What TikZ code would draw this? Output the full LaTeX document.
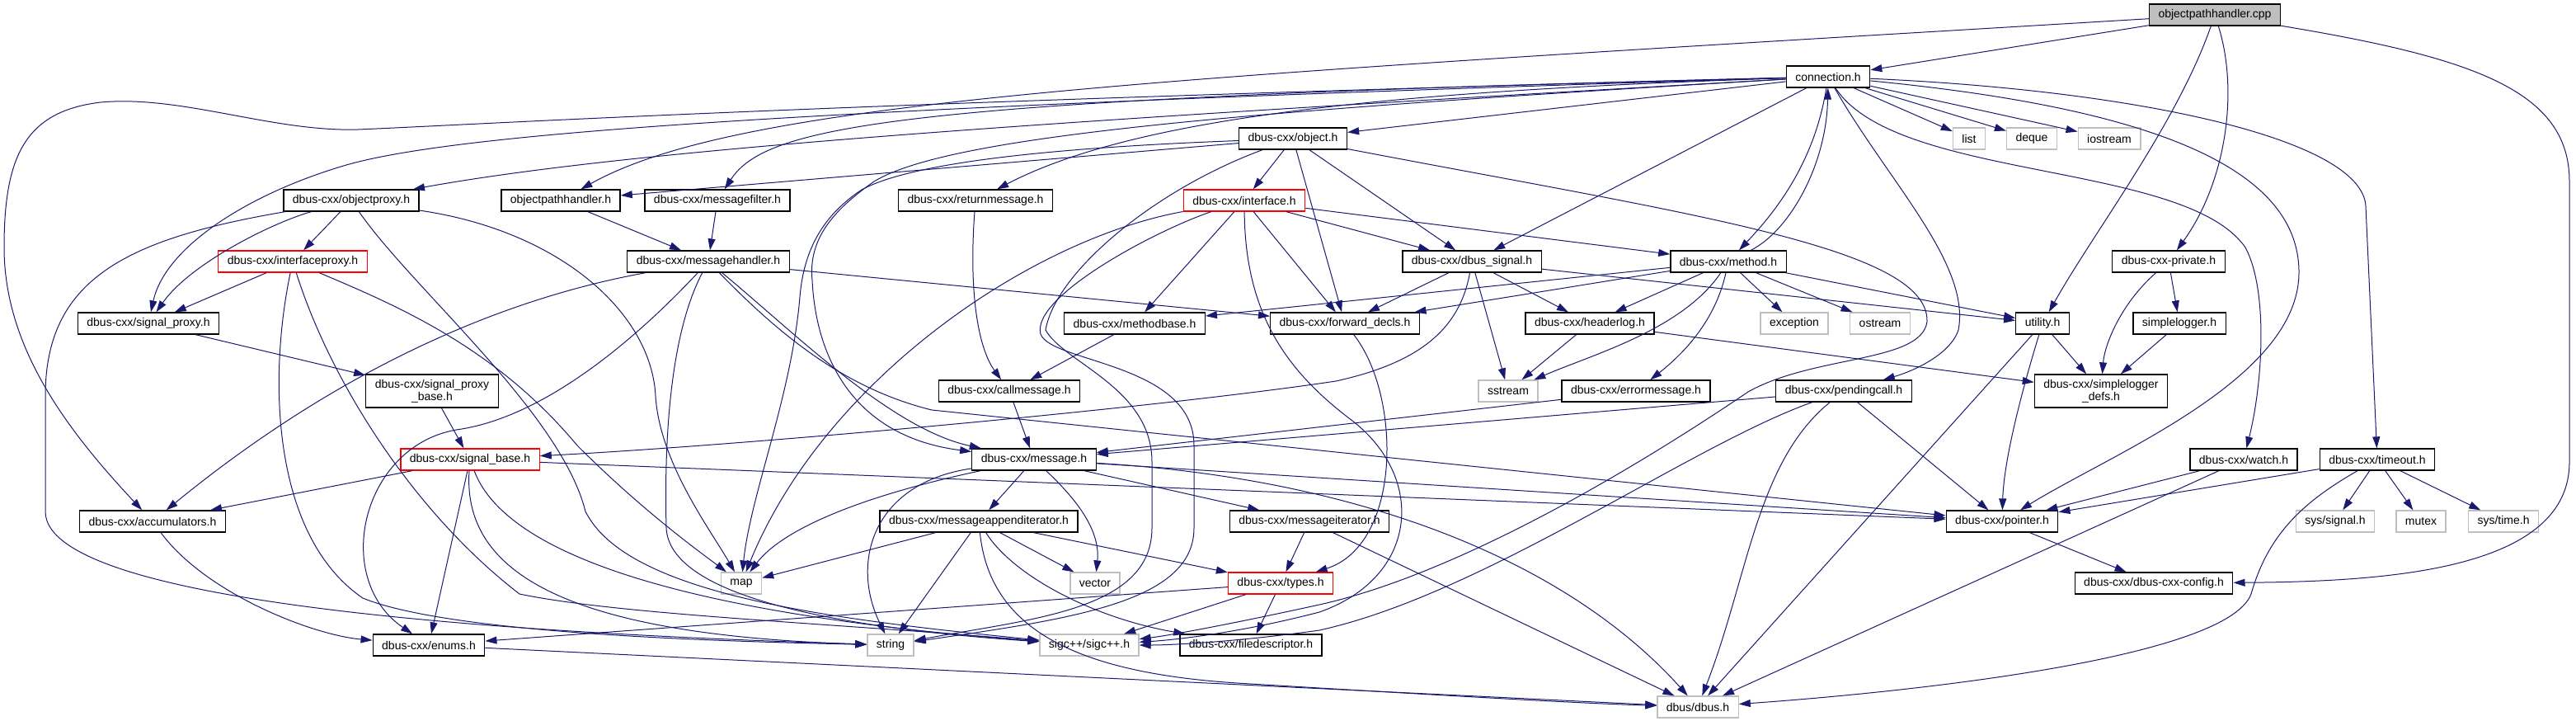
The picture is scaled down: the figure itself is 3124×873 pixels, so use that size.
\documentclass[tikz,border=0pt]{standalone}
\usepackage{fontspec}
\setmainfont{Liberation Sans}
\usetikzlibrary{arrows.meta}
\definecolor{edgeblue}{HTML}{191970}
\definecolor{sysgray}{HTML}{BFBFBF}
\begin{document}
\begin{tikzpicture}[x=1pt, y=-1pt,
  hdr/.style={draw=black, line width=1.3pt, fill=white, align=center, inner xsep=11pt, inner ysep=3pt, minimum height=26pt, font=\fontsize{14}{15}\selectfont},
  syshdr/.style={hdr, draw=sysgray},
  redhdr/.style={hdr, draw=red},
  roothdr/.style={hdr, fill=sysgray},
  twoline/.style={minimum height=40pt},
  incl/.style={->, draw=edgeblue, fill=none, line width=1pt},
  >={Triangle[length=14pt, width=9pt, fill=edgeblue]}]
\useasboundingbox (0,0) rectangle (3124,873);
\node[roothdr] (cpp) at (2686,18) {objectpathhandler.cpp};
\node[hdr] (conn) at (2217,93) {connection.h};
\node[hdr] (obj) at (1568,168) {dbus-cxx/object.h};
\node[syshdr] (list) at (2388,168) {list};
\node[syshdr] (deque) at (2464,168) {deque};
\node[syshdr] (iostream) at (2558,168) {iostream};
\node[hdr] (oproxy) at (426,243) {dbus-cxx/objectproxy.h};
\node[hdr] (ophh) at (680,243) {objectpathhandler.h};
\node[hdr] (mfilter) at (870,243) {dbus-cxx/messagefilter.h};
\node[hdr] (retmsg) at (1183,243) {dbus-cxx/returnmessage.h};
\node[redhdr] (iface) at (1509,243) {dbus-cxx/interface.h};
\node[redhdr] (iproxy) at (355,317) {dbus-cxx/interfaceproxy.h};
\node[hdr] (mhandler) at (859,317) {dbus-cxx/messagehandler.h};
\node[hdr] (dsignal) at (1785,317) {dbus-cxx/dbus\_signal.h};
\node[hdr] (method) at (2096,317) {dbus-cxx/method.h};
\node[hdr] (private) at (2630,317) {dbus-cxx-private.h};
\node[hdr] (sproxy) at (180,392) {dbus-cxx/signal\_proxy.h};
\node[hdr] (mbase) at (1376,392) {dbus-cxx/methodbase.h};
\node[hdr] (fwd) at (1631,392) {dbus-cxx/forward\_decls.h};
\node[hdr] (hlog) at (1928,392) {dbus-cxx/headerlog.h};
\node[syshdr] (exception) at (2176,392) {exception};
\node[syshdr] (ostream) at (2280,392) {ostream};
\node[hdr] (utility) at (2477,392) {utility.h};
\node[hdr] (slogger) at (2643,392) {simplelogger.h};
\node[hdr, twoline] (spbase) at (524,474) {dbus-cxx/signal\_proxy\\\_base.h};
\node[hdr] (callmsg) at (1224,474) {dbus-cxx/callmessage.h};
\node[syshdr] (sstream) at (1829,474) {sstream};
\node[hdr] (errmsg) at (1984,474) {dbus-cxx/errormessage.h};
\node[hdr] (pcall) at (2236,474) {dbus-cxx/pendingcall.h};
\node[hdr, twoline] (sldefs) at (2548,474) {dbus-cxx/simplelogger\\\_defs.h};
\node[redhdr] (sbase) at (570,557) {dbus-cxx/signal\_base.h};
\node[hdr] (message) at (1254,557) {dbus-cxx/message.h};
\node[hdr] (watch) at (2721,557) {dbus-cxx/watch.h};
\node[hdr] (timeout) at (2883,557) {dbus-cxx/timeout.h};
\node[hdr] (accum) at (185,632) {dbus-cxx/accumulators.h};
\node[hdr] (mappend) at (1187,632) {dbus-cxx/messageappenditerator.h};
\node[hdr] (miter) at (1588,632) {dbus-cxx/messageiterator.h};
\node[hdr] (pointer) at (2428,632) {dbus-cxx/pointer.h};
\node[syshdr] (syssignal) at (2832,632) {sys/signal.h};
\node[syshdr] (mutex) at (2936,632) {mutex};
\node[syshdr] (systime) at (3036,632) {sys/time.h};
\node[syshdr] (map) at (899,707) {map};
\node[syshdr] (vector) at (1328,707) {vector};
\node[redhdr] (types) at (1553,707) {dbus-cxx/types.h};
\node[hdr] (config) at (2612,707) {dbus-cxx/dbus-cxx-config.h};
\node[hdr] (enums) at (520,782) {dbus-cxx/enums.h};
\node[syshdr] (string) at (1080,782) {string};
\node[syshdr] (sigc) at (1321,782) {sigc++/sigc++.h};
\node[hdr] (fdesc) at (1517,782) {dbus-cxx/filedescriptor.h};
\node[syshdr] (dbus) at (2059,857) {dbus/dbus.h};
\draw[incl] (cpp) -- (conn);
\draw[incl] (cpp) .. controls (1400,95) and (900,120) .. (ophh);
\draw[incl] (cpp) .. controls (2640,150) and (2540,280) .. (utility);
\draw[incl] (cpp) .. controls (2715,110) and (2700,220) .. (private);
\draw[incl] (cpp) .. controls (3000,70) and (3116,110) .. (3116,220) -- (3116,560) .. controls (3116,690) and (2900,705) .. (config);
\draw[incl] (conn) -- (obj);
\draw[incl] (conn) -- (list);
\draw[incl] (conn) -- (deque);
\draw[incl] (conn) -- (iostream);
\draw[incl] (conn) .. controls (1400,140) and (800,175) .. (oproxy);
\draw[incl] (conn) .. controls (1000,130) and (560,160) .. (420,200) .. controls (300,235) and (200,300) .. (sproxy);
\draw[incl] (conn) .. controls (1000,125) and (600,150) .. (434,157) .. controls (330,160) and (220,115) .. (122,124) .. controls (30,135) and (5,190) .. (5,300) .. controls (5,420) and (80,520) .. (accum);
\draw[incl] (conn) .. controls (1100,120) and (930,150) .. (mfilter);
\draw[incl] (conn) .. controls (1700,110) and (1380,140) .. (retmsg);
\draw[incl] (conn) .. controls (1500,135) and (1150,165) .. (1060,220) .. controls (1010,255) and (980,290) .. (985,340) .. controls (990,440) and (1040,530) .. (message);
\draw[incl] (conn) -- (dsignal);
\draw[incl] (conn) .. controls (2200,200) and (2150,260) .. (method);
\draw[incl] (method) .. controls (2170,280) and (2215,200) .. (conn);
\draw[incl] (conn) .. controls (2290,220) and (2390,320) .. (2375,400) .. controls (2365,430) and (2320,450) .. (pcall);
\draw[incl] (conn) .. controls (2300,220) and (2650,195) .. (2723,300) .. controls (2750,350) and (2745,460) .. (watch);
\draw[incl] (conn) .. controls (2600,110) and (2865,170) .. (2869,250) -- (timeout);
\draw[incl] (conn) .. controls (2600,130) and (2788,200) .. (2788,330) .. controls (2788,460) and (2560,550) .. (pointer);
\draw[incl] (obj) -- (ophh);
\draw[incl] (obj) -- (iface);
\draw[incl] (obj) -- (dsignal);
\draw[incl] (obj) -- (fwd);
\draw[incl] (obj) .. controls (1250,180) and (1100,200) .. (1045,230) .. controls (1000,260) and (975,300) .. (970,360) .. controls (960,480) and (910,600) .. (map);
\draw[incl] (obj) .. controls (1400,230) and (1280,330) .. (1268,400) .. controls (1290,440) and (1397,470) .. (1397,560) -- (1397,640) .. controls (1397,740) and (1250,750) .. (string);
\draw[incl] (obj) .. controls (2050,260) and (2340,300) .. (2337,390) .. controls (2330,440) and (2200,430) .. (2120,475) .. controls (1950,590) and (1750,700) .. (1600,733) .. controls (1500,755) and (1420,770) .. (sigc);
\draw[incl] (iface) -- (dsignal);
\draw[incl] (iface) -- (method);
\draw[incl] (iface) -- (mbase);
\draw[incl] (iface) -- (fwd);
\draw[incl] (iface) .. controls (1250,290) and (1000,460) .. (map);
\draw[incl] (iface) .. controls (1400,280) and (1250,360) .. (1262,405) .. controls (1275,440) and (1448,440) .. (1448,540) -- (1448,640) .. controls (1448,730) and (1300,750) .. (string);
\draw[incl] (iface) .. controls (1510,380) and (1560,450) .. (1640,510) .. controls (1730,580) and (1720,700) .. (1600,742) .. controls (1500,768) and (1420,776) .. (sigc);
\draw[incl] (oproxy) -- (iproxy);
\draw[incl] (oproxy) .. controls (330,270) and (230,320) .. (sproxy);
\draw[incl] (oproxy) .. controls (680,280) and (790,380) .. (795,480) .. controls (800,560) and (860,640) .. (map);
\draw[incl] (oproxy) .. controls (150,290) and (55,340) .. (55,480) -- (55,620) .. controls (55,740) and (700,770) .. (string);
\draw[incl] (oproxy) .. controls (500,350) and (680,500) .. (710,620) .. controls (760,720) and (1000,750) .. (sigc);
\draw[incl] (iproxy) -- (sproxy);
\draw[incl] (iproxy) .. controls (480,370) and (600,420) .. (700,540) .. controls (780,620) and (850,670) .. (map);
\draw[incl] (iproxy) .. controls (325,460) and (330,650) .. (440,725) .. controls (550,770) and (900,778) .. (string);
\draw[incl] (iproxy) .. controls (400,460) and (500,620) .. (630,720) .. controls (750,745) and (1000,755) .. (sigc);
\draw[incl] (ophh) -- (mhandler);
\draw[incl] (mfilter) -- (mhandler);
\draw[incl] (mhandler) -- (fwd);
\draw[incl] (mhandler) .. controls (960,400) and (1080,520) .. (message);
\draw[incl] (mhandler) .. controls (940,400) and (1020,470) .. (1130,497) -- (pointer);
\draw[incl] (mhandler) .. controls (815,400) and (805,520) .. (808,640) .. controls (812,720) and (1000,760) .. (sigc);
\draw[incl] (mhandler) .. controls (620,360) and (420,440) .. (accum);
\draw[incl] (mhandler) .. controls (800,380) and (680,500) .. (560,520) .. controls (440,535) and (400,700) .. (enums);
\draw[incl] (sproxy) -- (spbase);
\draw[incl] (spbase) -- (sbase);
\draw[incl] (sbase) -- (accum);
\draw[incl] (sbase) -- (enums);
\draw[incl] (sbase) .. controls (560,700) and (700,770) .. (string);
\draw[incl] (sbase) .. controls (620,690) and (900,750) .. (sigc);
\draw[incl] (sbase) -- (pointer);
\draw[incl] (accum) .. controls (250,720) and (380,770) .. (enums);
\draw[incl] (dsignal) -- (fwd);
\draw[incl] (dsignal) -- (hlog);
\draw[incl] (dsignal) -- (sstream);
\draw[incl] (dsignal) -- (utility);
\draw[incl] (dsignal) .. controls (1770,400) and (1720,440) .. (1620,462) .. controls (1400,495) and (900,540) .. (sbase);
\draw[incl] (method) -- (mbase);
\draw[incl] (method) -- (fwd);
\draw[incl] (method) -- (hlog);
\draw[incl] (method) -- (exception);
\draw[incl] (method) -- (ostream);
\draw[incl] (method) -- (utility);
\draw[incl] (method) .. controls (2040,400) and (1930,430) .. (sstream);
\draw[incl] (method) .. controls (2080,390) and (2040,430) .. (errmsg);
\draw[incl] (hlog) -- (sstream);
\draw[incl] (hlog) -- (sldefs);
\draw[incl] (retmsg) .. controls (1175,350) and (1185,420) .. (callmsg);
\draw[incl] (mbase) -- (callmsg);
\draw[incl] (callmsg) -- (message);
\draw[incl] (errmsg) -- (message);
\draw[incl] (pcall) -- (message);
\draw[incl] (pcall) .. controls (2050,540) and (1800,720) .. (1600,764) .. controls (1500,778) and (1420,782) .. (sigc);
\draw[incl] (pcall) .. controls (2130,560) and (2120,700) .. (dbus);
\draw[incl] (pcall) -- (pointer);
\draw[incl] (message) -- (mappend);
\draw[incl] (message) -- (miter);
\draw[incl] (message) .. controls (1300,600) and (1335,640) .. (vector);
\draw[incl] (message) .. controls (1050,600) and (950,640) .. (map);
\draw[incl] (message) .. controls (1060,585) and (1030,680) .. (string);
\draw[incl] (message) -- (pointer);
\draw[incl] (message) .. controls (1650,580) and (1900,680) .. (dbus);
\draw[incl] (mappend) -- (map);
\draw[incl] (mappend) -- (string);
\draw[incl] (mappend) -- (vector);
\draw[incl] (mappend) -- (types);
\draw[incl] (mappend) .. controls (1230,700) and (1330,750) .. (fdesc);
\draw[incl] (mappend) .. controls (1200,760) and (1300,815) .. (1500,828) .. controls (1700,840) and (1900,852) .. (dbus);
\draw[incl] (miter) -- (types);
\draw[incl] (miter) -- (dbus);
\draw[incl] (fwd) .. controls (1700,480) and (1700,660) .. (types);
\draw[incl] (types) -- (enums);
\draw[incl] (types) -- (sigc);
\draw[incl] (types) -- (fdesc);
\draw[incl] (enums) -- (dbus);
\draw[incl] (utility) -- (sldefs);
\draw[incl] (utility) .. controls (2450,480) and (2430,560) .. (pointer);
\draw[incl] (utility) -- (dbus);
\draw[incl] (private) -- (slogger);
\draw[incl] (private) .. controls (2570,370) and (2552,420) .. (sldefs);
\draw[incl] (slogger) -- (sldefs);
\draw[incl] (watch) -- (pointer);
\draw[incl] (watch) -- (dbus);
\draw[incl] (timeout) -- (pointer);
\draw[incl] (timeout) .. controls (2790,610) and (2750,650) .. (2730,720) .. controls (2700,800) and (2300,840) .. (dbus);
\draw[incl] (timeout) -- (syssignal);
\draw[incl] (timeout) -- (mutex);
\draw[incl] (timeout) -- (systime);
\draw[incl] (pointer) -- (config);
\end{tikzpicture}
\end{document}
